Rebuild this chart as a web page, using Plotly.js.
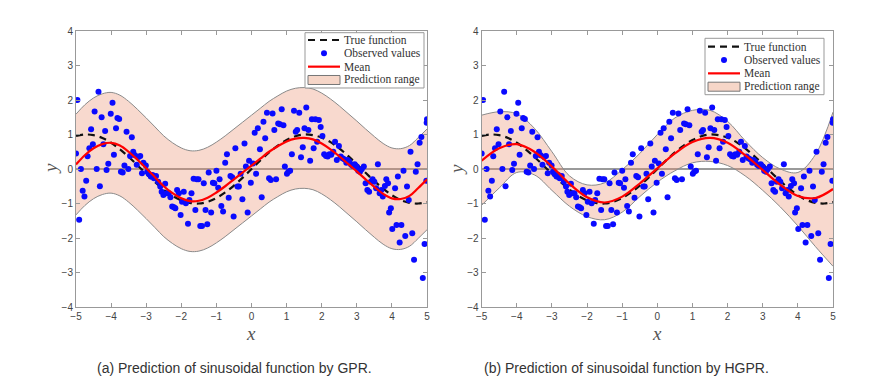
<!DOCTYPE html>
<html>
<head>
<meta charset="utf-8">
<script src="https://cdn.plot.ly/plotly-3.0.1.min.js"></script>
<style>html,body{margin:0;padding:0;background:#fff;}#chart{width:890px;height:390px;}</style>
</head>
<body>
<div id="chart"></div>
<script>
// ---- data ----
const gridX = [-5,-4.75,-4.5,-4.25,-4,-3.75,-3.5,-3.25,-3,-2.75,-2.5,-2.25,-2,-1.75,-1.5,-1.25,-1,-0.75,-0.5,-0.25,0,0.25,0.5,0.75,1,1.25,1.5,1.75,2,2.25,2.5,2.75,3,3.25,3.5,3.75,4,4.25,4.5,4.75,5];
const trueY = [0.96,1.0,0.98,0.9,0.76,0.57,0.35,0.11,-0.14,-0.38,-0.6,-0.78,-0.91,-0.98,-1.0,-0.95,-0.84,-0.68,-0.48,-0.25,0,0.25,0.48,0.68,0.84,0.95,1.0,0.98,0.91,0.78,0.6,0.38,0.14,-0.11,-0.35,-0.57,-0.76,-0.9,-0.98,-1.0,-0.96];

const gprMean  = [0.13,0.4,0.6,0.72,0.76,0.68,0.5,0.27,0.02,-0.24,-0.5,-0.7,-0.85,-0.93,-0.92,-0.83,-0.68,-0.5,-0.3,-0.1,0.1,0.3,0.5,0.66,0.8,0.88,0.9,0.86,0.74,0.57,0.37,0.15,-0.07,-0.3,-0.52,-0.72,-0.85,-0.87,-0.78,-0.55,-0.3];
const gprUpper = [1.59,1.86,2.06,2.18,2.22,2.14,1.96,1.73,1.48,1.22,0.96,0.76,0.61,0.53,0.54,0.63,0.78,0.96,1.16,1.36,1.56,1.76,1.96,2.12,2.26,2.34,2.36,2.32,2.2,2.03,1.83,1.61,1.39,1.16,0.94,0.74,0.61,0.59,0.68,0.91,1.16];
const gprLower = [-1.33,-1.06,-0.86,-0.74,-0.7,-0.78,-0.96,-1.19,-1.44,-1.7,-1.96,-2.16,-2.31,-2.39,-2.38,-2.29,-2.14,-1.96,-1.76,-1.56,-1.36,-1.16,-0.96,-0.8,-0.66,-0.58,-0.56,-0.6,-0.72,-0.89,-1.09,-1.31,-1.53,-1.76,-1.98,-2.18,-2.31,-2.33,-2.24,-2.01,-1.76];

const halfX = [-5,-4.5,-4,-3.5,-3,-2.5,-2,-1.5,-1,-0.5,0,0.5,1,1.5,2,2.5,3,3.5,4,4.5,5];
const hgprMean  = [0.24,0.6,0.72,0.5,0.07,-0.43,-0.82,-0.97,-0.8,-0.42,0.02,0.45,0.78,0.9,0.76,0.4,-0.03,-0.46,-0.78,-0.84,-0.58];
const hgprUpper = [1.56,1.66,1.6,1.18,0.5,-0.2,-0.46,-0.4,-0.02,0.45,1.0,1.48,1.7,1.7,1.38,0.82,0.33,0.0,-0.1,0.42,1.65];
const hgprLower = [-1.05,-0.55,-0.1,-0.17,-0.62,-1.08,-1.38,-1.47,-1.25,-0.8,-0.38,-0.05,0.18,0.22,0.1,-0.2,-0.62,-1.1,-1.65,-2.25,-2.82];

const obsX = [-4.96,-5.0,-4.91,-4.86,-4.81,-4.76,-4.71,-4.67,-4.62,-4.57,-4.52,-4.47,-4.41,-4.36,-4.32,-4.27,-4.22,-4.17,-4.13,-4.08,-4.01,-3.96,-3.92,-3.86,-3.82,-3.77,-3.72,-3.67,-3.62,-3.56,-3.51,-3.46,-3.41,-3.37,-3.32,-3.27,-3.22,-3.17,-3.12,-3.08,-3.01,-2.97,-2.92,-2.87,-2.82,-2.78,-2.72,-2.66,-2.6,-2.56,-2.51,-2.46,-2.41,-2.36,-2.31,-2.26,-2.21,-2.17,-2.12,-2.07,-2.02,-1.98,-1.93,-1.87,-1.81,-1.77,-1.71,-1.65,-1.6,-1.56,-1.51,-1.46,-1.41,-1.36,-1.31,-1.26,-1.22,-1.15,-1.1,-1.06,-1.0,-0.95,-0.91,-0.86,-0.81,-0.75,-0.7,-0.65,-0.6,-0.55,-0.51,-0.46,-0.4,-0.36,-0.31,-0.26,-0.2,-0.16,-0.11,-0.07,-0.02,0.04,0.09,0.13,0.18,0.24,0.29,0.34,0.39,0.44,0.5,0.55,0.6,0.65,0.7,0.76,0.81,0.86,0.91,0.95,1.01,1.05,1.1,1.15,1.21,1.26,1.3,1.36,1.41,1.46,1.51,1.56,1.62,1.67,1.72,1.77,1.82,1.87,1.92,1.97,2.02,2.07,2.12,2.17,2.22,2.27,2.33,2.38,2.43,2.49,2.54,2.59,2.64,2.7,2.74,2.79,2.84,2.89,2.94,3.0,3.04,3.09,3.14,3.2,3.25,3.3,3.35,3.4,3.45,3.5,3.55,3.6,3.65,3.7,3.74,3.8,3.84,3.89,3.92,3.97,4.01,4.09,4.13,4.17,4.22,4.27,4.33,4.38,4.43,4.48,4.53,4.58,4.63,4.68,4.73,4.79,4.84,4.88,4.93,4.98,4.99,5.0];
const obsY = [2.0,0.45,-1.47,0.0,-0.63,-0.8,-0.34,0.37,0.6,1.15,0.72,1.67,0.0,2.24,-0.5,1.5,0.72,1.1,-0.03,0.15,1.6,1.92,0.41,1.18,1.48,1.45,-0.08,-0.1,0.1,1.08,0.0,0.38,0.92,0.5,0.4,0.12,0.35,0.38,-0.12,0.18,0.1,-0.08,-0.15,-0.22,-0.17,-0.27,-0.2,-0.37,-0.51,-0.66,-0.75,-0.43,-0.7,-0.7,-0.82,-1.09,-1.11,-1.14,-0.61,-0.7,-1.33,-0.95,-0.66,-0.99,-1.59,-0.9,-0.7,-0.28,-1.19,-0.3,-0.3,-1.65,-1.65,-0.41,-1.19,-1.6,-0.1,-1.26,-0.4,-0.41,-0.05,-0.54,-0.3,-1.07,-1.23,0.18,0.43,-0.83,-0.2,-0.24,-1.38,0.6,-0.51,-0.51,-0.14,-0.88,0.74,0.07,-1.26,0.24,-0.4,0.16,1.05,-0.14,1.18,0.57,-0.82,1.37,0.89,1.63,-0.27,-0.32,1.61,1.13,-0.3,1.32,1.3,1.73,1.27,0.07,-0.14,-0.08,-0.05,0.43,1.69,1.08,1.13,1.63,0.34,0.63,1.18,1.78,1.13,0.24,1.44,0.6,1.44,0.79,1.42,1.22,0.96,0.43,0.38,0.36,0.43,0.41,0.5,0.79,0.26,0.67,0.36,0.31,0.28,0.18,0.26,0.21,0.12,0.09,0.14,0.07,-0.05,-0.08,-0.01,0.07,-0.41,-0.61,-0.66,-0.37,-0.3,-0.37,-0.56,0.14,-0.7,-0.61,-0.8,-0.49,-0.3,-0.41,-1.26,-1.14,-1.74,-0.56,-1.62,-0.22,-2.13,-1.62,-0.05,-1.94,-0.51,-0.9,0.5,-1.86,-2.63,-0.08,0.14,0.76,0.93,-3.16,-2.17,-0.34,1.34,1.44];

const xTicks = [-5,-4,-3,-2,-1,0,1,2,3,4,5];
const yTicks = [-4,-3,-2,-1,0,1,2,3,4];
const captions = ['(a) Prediction of sinusoidal function by GPR.', '(b) Prediction of sinusoidal function by HGPR.'];
const legendNames = ['True function','Observed values','Mean','Prediction range'];

// ---- styling ----
const W = 890, H = 390;
const bandFill = 'rgba(234,140,105,0.33)';
const bandEdge = '#8a8a8a';
const trueStyle = {color: '#111', width: 2.2, dash: '7px,5px'};
const meanStyle = {color: '#ff0000', width: 2.2};
const dotColor = '#0a0aff';

function panel(xa, ya, bx, bm, bu, bl) {
  return [
    {x: bx, y: bl, xaxis: xa, yaxis: ya, type: 'scatter', mode: 'lines', line: {color: bandEdge, width: 1, shape: 'spline'}, showlegend: false, hoverinfo: 'skip'},
    {x: bx, y: bu, xaxis: xa, yaxis: ya, type: 'scatter', mode: 'lines', fill: 'tonexty', fillcolor: bandFill, line: {color: bandEdge, width: 1, shape: 'spline'}, name: legendNames[3], showlegend: false},
    {x: gridX, y: trueY, xaxis: xa, yaxis: ya, type: 'scatter', mode: 'lines', line: Object.assign({shape: 'spline'}, trueStyle), name: legendNames[0], showlegend: false},
    {x: obsX, y: obsY, xaxis: xa, yaxis: ya, type: 'scatter', mode: 'markers', marker: {color: dotColor, size: 6}, name: legendNames[1], showlegend: false},
    {x: bx, y: bm, xaxis: xa, yaxis: ya, type: 'scatter', mode: 'lines', line: Object.assign({shape: 'spline'}, meanStyle), name: legendNames[2], showlegend: false}
  ];
}

const traces = [].concat(
  panel('x', 'y', gridX, gprMean, gprUpper, gprLower),
  panel('x2', 'y2', halfX, hgprMean, hgprUpper, hgprLower)
);

function xaxis(dom, anchor) {
  return {domain: dom, anchor: anchor, range: [-5, 5], tickvals: xTicks, ticks: 'inside', ticklen: 4, tickcolor: '#999',
    showline: true, linecolor: '#999', linewidth: 1, mirror: 'ticks', showgrid: false, zeroline: false,
    tickfont: {family: 'Liberation Sans, Arial', size: 10, color: '#444'}, fixedrange: true};
}
function yaxis(anchor) {
  return {domain: [0.2128, 0.9205], anchor: anchor, range: [-4, 4], tickvals: yTicks, ticks: 'inside', ticklen: 4, tickcolor: '#999',
    showline: true, linecolor: '#999', linewidth: 1, mirror: 'ticks', showgrid: false, zeroline: true, zerolinecolor: '#9a9a9a', zerolinewidth: 1.5,
    tickfont: {family: 'Liberation Sans, Arial', size: 10, color: '#444'}, fixedrange: true};
}

// ---- legend box (layout decoration, pixel positions) ----
const px = v => v / W, py = v => 1 - v / H;
const legFont = {family: 'Liberation Serif, Times New Roman, serif', size: 11.5, color: '#333'};
const shapes = [], annotations = [];
function legendBox(left, top, rowTop) {
  const right = left + 119, bottom = rowTop + 3 * 13.33 + 8;
  shapes.push({type: 'rect', xref: 'paper', yref: 'paper', x0: px(left), x1: px(right), y0: py(top), y1: py(bottom), fillcolor: '#fff', line: {color: '#999', width: 1}});
  const sx0 = left + 3, sx1 = left + 35, tx = left + 37;
  const rows = [0, 1, 2, 3].map(k => rowTop + k * 13.33);
  shapes.push({type: 'line', xref: 'paper', yref: 'paper', x0: px(sx0), x1: px(sx1), y0: py(rows[0]), y1: py(rows[0]), line: trueStyle});
  shapes.push({type: 'circle', xref: 'paper', yref: 'paper', x0: px((sx0 + sx1) / 2 - 3), x1: px((sx0 + sx1) / 2 + 3), y0: py(rows[1] - 3), y1: py(rows[1] + 3), fillcolor: dotColor, line: {width: 0}});
  shapes.push({type: 'line', xref: 'paper', yref: 'paper', x0: px(sx0), x1: px(sx1), y0: py(rows[2]), y1: py(rows[2]), line: meanStyle});
  shapes.push({type: 'rect', xref: 'paper', yref: 'paper', x0: px(sx0), x1: px(sx1), y0: py(rows[3] - 4.5), y1: py(rows[3] + 4.5), fillcolor: 'rgb(246,214,200)', line: {color: '#777', width: 1}});
  rows.forEach((r, k) => annotations.push({text: legendNames[k], xref: 'paper', yref: 'paper', x: px(tx), y: py(r), xanchor: 'left', yanchor: 'middle', showarrow: false, font: legFont}));
}
legendBox(305, 32.7, 40);
legendBox(705, 38.3, 46.7);

const mathFont = {family: 'Liberation Serif, DejaVu Serif, serif', size: 19, color: '#555', style: 'italic'};
const capFont = {family: 'Liberation Sans, Arial', size: 14, color: '#333'};
annotations.push(
  {text: 'x', xref: 'paper', yref: 'paper', x: px(250.7), y: py(321), xanchor: 'center', yanchor: 'top', showarrow: false, font: mathFont},
  {text: 'y', xref: 'paper', yref: 'paper', x: px(50), y: py(169), xanchor: 'center', yanchor: 'middle', showarrow: false, textangle: -90, font: mathFont},
  {text: 'x', xref: 'paper', yref: 'paper', x: px(657), y: py(321), xanchor: 'center', yanchor: 'top', showarrow: false, font: mathFont},
  {text: 'y', xref: 'paper', yref: 'paper', x: px(456), y: py(169), xanchor: 'center', yanchor: 'middle', showarrow: false, textangle: -90, font: mathFont},
  {text: captions[0], xref: 'paper', yref: 'paper', x: px(235), y: py(368), xanchor: 'center', yanchor: 'middle', showarrow: false, font: capFont},
  {text: captions[1], xref: 'paper', yref: 'paper', x: px(626), y: py(368), xanchor: 'center', yanchor: 'middle', showarrow: false, font: capFont}
);

const layout = {
  width: W, height: H,
  margin: {l: 0, r: 0, t: 0, b: 0},
  paper_bgcolor: '#fff', plot_bgcolor: '#fff',
  showlegend: false,
  xaxis: xaxis([0.0854, 0.4798], 'y'),
  yaxis: yaxis('x'),
  xaxis2: xaxis([0.5412, 0.9360], 'y2'),
  yaxis2: yaxis('x2'),
  shapes: shapes,
  annotations: annotations
};

Plotly.newPlot('chart', traces, layout, {staticPlot: true, displayModeBar: false});
</script>
</body>
</html>
